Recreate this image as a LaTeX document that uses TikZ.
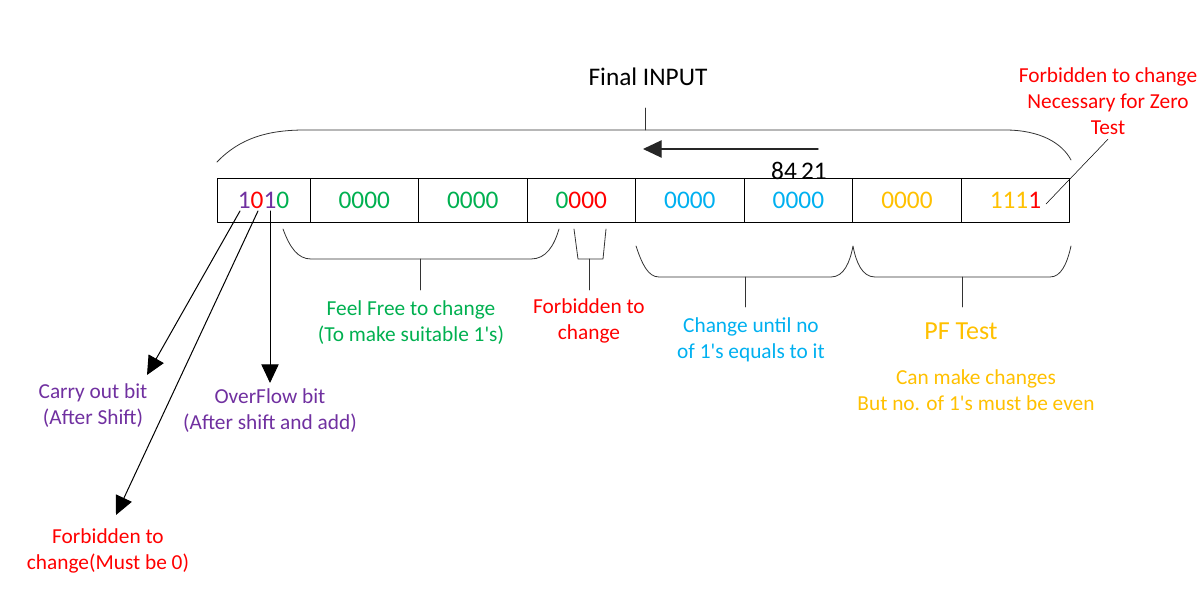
\documentclass[tikz,border=0pt]{standalone}
\usepackage{fontspec}
\setmainfont{Carlito}
\usetikzlibrary{arrows.meta,positioning}
\definecolor{bitpurple}{HTML}{7030A0}
\definecolor{bitred}{HTML}{FF0000}
\definecolor{bitgreen}{HTML}{00B050}
\definecolor{bitblue}{HTML}{00B0F0}
\definecolor{bitorange}{HTML}{FFC000}
\newcommand{\ap}{\textquotesingle}
\begin{document}
\begin{tikzpicture}[x=0.75pt, y=-0.75pt, line cap=round, line join=round,
	cell/.style={draw, line width=0.65pt, minimum width=81.4pt, minimum height=33pt,
		inner sep=0pt, outer sep=0pt, font=\fontsize{19}{23}\selectfont},
	lbl/.style={align=center, yshift=-1.5pt, font=\fontsize{16}{19.5}\selectfont},
	brace/.style={draw=black!80, line width=0.6pt},
	bigarrow/.style={-{Triangle[length=14pt,width=13pt]}, line width=0.75pt}]
	\useasboundingbox (0,0) rectangle (1204,605);
	% the eight nibbles
	\node[cell, minimum width=69.75pt] (b1) at (263.5,200)
		{\textcolor{bitpurple}{1}\textcolor{bitred}{0}\textcolor{bitpurple}{1}\textcolor{bitgreen}{0}};
	\node[cell, right=0pt of b1] (b2) {\textcolor{bitgreen}{0000}};
	\node[cell, right=0pt of b2] (b3) {\textcolor{bitgreen}{0000}};
	\node[cell, right=0pt of b3] (b4) {\textcolor{bitgreen}{0}\textcolor{bitred}{000}};
	\node[cell, right=0pt of b4] (b5) {\textcolor{bitblue}{0000}};
	\node[cell, right=0pt of b5] (b6) {\textcolor{bitblue}{0000}};
	\node[cell, right=0pt of b6] (b7) {\textcolor{bitorange}{0000}};
	\node[cell, right=0pt of b7] (b8) {\textcolor{bitorange}{111}\textcolor{bitred}{1}};
	% top brace
	\draw[brace] (217,162) .. controls (240,138) and (268,130) .. (305,130) -- (1005,130)
		.. controls (1040,130) and (1062,143) .. (1071,160);
	\draw[brace] (645,130) -- (645,108);
	\node[font=\fontsize{19}{23}\selectfont] (final) at (648,77) {Final INPUT};
	\path (818,149) coordinate (s0) (643,149) coordinate (s1);
	\draw[bigarrow, draw=black!85, line width=1pt] (s0) -- (s1);
	\node[font=\fontsize{19}{23}\selectfont] (weights) at (799,171) {84\,21};
	\node[lbl, text=bitred] (zero) at (1108,99) {Forbidden to change\\Necessary for Zero\\Test};
	\coordinate (z0) at (1046,204);
	\draw (z0) -- (zero.south);
	% bottom braces
	\draw[brace] (283,229) .. controls (290,248) and (298,259) .. (311,259) -- (531,259)
		.. controls (546,259) and (554,246) .. (559,229);
	\draw[brace] (420,259) -- (420,290);
	\draw[brace] (574,229) -- (578,259) -- (603,259) -- (606,229);
	\draw[brace] (589,259) -- (589,290);
	\draw[brace] (636,246) .. controls (642,264) and (648,277) .. (659,277) -- (831,277)
		.. controls (844,277) and (850,262) .. (853,246)
		.. controls (856,262) and (862,277) .. (875,277) -- (1050,277)
		.. controls (1061,277) and (1067,264) .. (1071,246);
	\draw[brace] (745,277) -- (745,307);
	\draw[brace] (962,277) -- (962,307);
	\node[lbl, text=bitgreen] (free) at (411,320.5) {Feel Free to change\\(To make suitable 1\ap s)};
	\node[lbl, text=bitred] (fixed) at (589,319) {Forbidden to\\change};
	\node[lbl, text=bitblue] (count) at (751,338) {Change until no\\of 1\ap s equals to it};
	\node[font=\fontsize{19.5}{23}\selectfont, text=bitorange] (pf) at (961,331) {PF Test};
	\node[lbl, text=bitorange] (even) at (976,388.5) {Can make changes\\But no. of 1\ap s must be even};
	% the three top bits
	\path (240,211) coordinate (c1) (258,211) coordinate (c2) (270,211) coordinate (c3)
		(147,375) coordinate (t1) (116,515) coordinate (t2) (270,383) coordinate (t3);
	\draw[bigarrow] (c1) -- (t1);
	\draw[bigarrow] (c2) -- (t2);
	\draw[bigarrow] (c3) -- (t3);
	\node[lbl, text=bitpurple] (carry) at (93,404) {Carry out bit\\(After Shift)};
	\node[lbl, text=bitpurple] (over) at (270,409) {OverFlow bit\\(After shift and add)};
	\node[lbl, text=bitred] (sign) at (108,548.5) {Forbidden to\\change(Must be 0)};
\end{tikzpicture}
\end{document}
